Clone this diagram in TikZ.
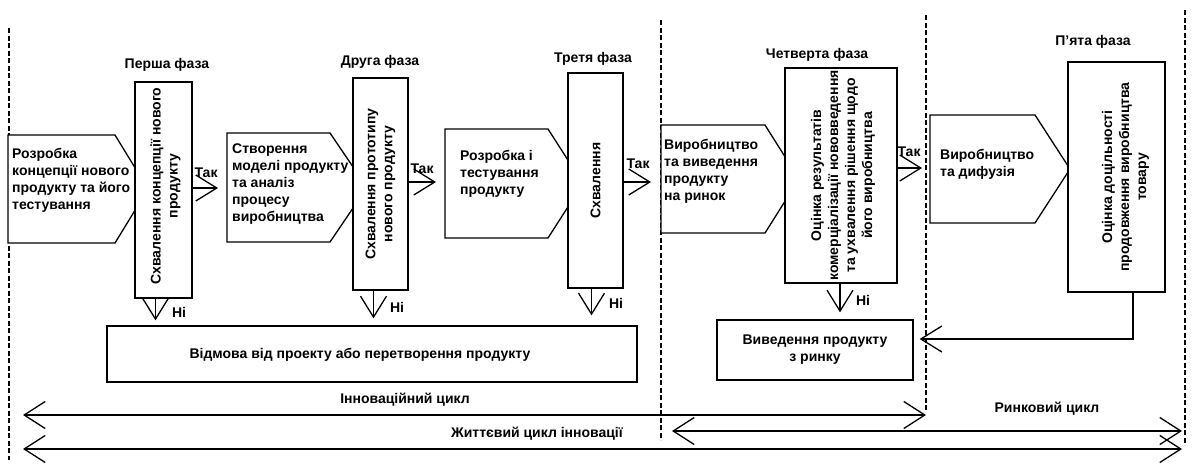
\documentclass[tikz,border=0pt]{standalone}
\usepackage{fontspec}
\setmainfont{Liberation Sans}
\usetikzlibrary{arrows.meta,calc}
\begin{document}
\begin{tikzpicture}[x=1pt,y=-1pt,
  every node/.style={font=\bfseries\fontsize{14}{17}\selectfont, inner sep=0pt},
  ln/.style={line width=1.3pt},
  gate/.style={draw, ln, fill=white},
  pentshape/.style={draw, ln, fill=white, line join=miter},
  arr/.style={ln, -{Straight Barb[length=21pt,width=26pt]}},
  dbl/.style={ln, {Straight Barb[length=21pt,width=27pt]}-{Straight Barb[length=21pt,width=27pt]}},
  dsh/.style={line width=1.2pt, dash pattern=on 5pt off 2.5pt},
  vtext/.style={rotate=90, align=center},
  ptext/.style={anchor=north west, align=left},
]
\fill[white] (0,0) rectangle (1192,466);
\useasboundingbox (0,0) rectangle (1192,466);

% dashed phase separators
\coordinate (d1t) at (9,28);    \coordinate (d1b) at (9,460);
\coordinate (d2t) at (661,20);  \coordinate (d2b) at (661,440);
\coordinate (d3t) at (926,15);  \coordinate (d3b) at (926,410);
\coordinate (d4t) at (1185,10); \coordinate (d4b) at (1185,445);
\draw[dsh] (d1t) -- (d1b);
\draw[dsh] (d2t) -- (d2b);
\draw[dsh] (d3t) -- (d3b);
\draw[dsh] (d4t) -- (d4b);

% pentagons
\draw[pentshape] (8,135) -- (115,135) -- (148,189) -- (115,243) -- (8,243) -- cycle;
\draw[pentshape] (227,133) -- (330,133) -- (367,187.5) -- (330,242) -- (227,242) -- cycle;
\draw[pentshape] (445,129) -- (548,129) -- (583,183.5) -- (548,238) -- (445,238) -- cycle;
\draw[pentshape] (661,125) -- (765,125) -- (799,179) -- (765,233) -- (661,233) -- cycle;
\draw[pentshape] (930,115) -- (1035,115) -- (1070,169) -- (1035,223) -- (930,223) -- cycle;
\coordinate (p2in) at (227,188);
\coordinate (p3in) at (445,182);
\coordinate (p4in) at (661,182);
\coordinate (p5in) at (930,168);

\node[ptext] (p1) at (12,148) {Розробка\\концепції нового\\продукту та його\\тестування};
\node[ptext] (p2) at (232,144) {Створення\\моделі продукту\\та аналіз\\процесу\\виробництва};
\node[ptext] (p3) at (460,150) {Розробка і\\тестування\\продукту};
\node[ptext] (p4) at (664,139) {Виробництво\\та виведення\\продукту\\на ринок};
\node[ptext] (p5) at (940,149) {Виробництво\\та дифузія};

% decision rectangles
\node[gate, minimum width=57pt, minimum height=216pt] (g1) at (163.5,190) {};
\node[gate, minimum width=55pt, minimum height=212pt] (g2) at (380.5,184) {};
\node[gate, minimum width=55pt, minimum height=215pt] (g3) at (595.5,180.5) {};
\node[gate, minimum width=112pt, minimum height=215pt] (g4) at (841,175.5) {};
\node[gate, minimum width=97pt, minimum height=230pt] (g5) at (1116.5,177) {};

\node[vtext] (g1t) at ($(g1.center)+(2,-4)$) {Схвалення концепції нового\\продукту};
\node[vtext] (g2t) at (g2.center) {Схвалення прототипу\\нового продукту};
\node[vtext] (g3t) at (g3.center) {Схвалення};
\node[vtext] (g4t) at ($(g4.center)+(2,0)$) {Оцінка результатів\\комерціалізації нововведення\\та ухвалення рішення щодо\\його виробництва};
\node[vtext] (g5t) at ($(g5.center)+(9,0)$) {Оцінка доцільності\\продовження виробництва\\товару};

% phase titles
\node (ph1) at (167,65) {Перша фаза};
\node (ph2) at (380,62) {Друга фаза};
\node (ph3) at (593,59) {Третя фаза};
\node (ph4) at (817,55) {Четверта фаза};
\node (ph5) at (1093,42) {П’ята фаза};

% "yes" arrows
\draw[arr, shorten >=9pt] (g1.east |- p2in) -- (p2in);
\draw[arr, shorten >=9pt] (g2.east |- p3in) -- (p3in);
\draw[arr, shorten >=10pt] (g3.east |- p4in) -- (p4in);
\draw[arr, shorten >=8pt] (g4.east |- p5in) -- (p5in);
\node (y1) at (206,173) {Так};
\node (y2) at (422,169) {Так};
\node (y3) at (638,164) {Так};
\node (y4) at (909,152) {Так};

% bottom boxes
\node[gate, minimum width=530pt, minimum height=56pt] (b1) at (372,354) {};
\node (b1t) at (360,355) {Відмова від проекту або перетворення продукту};
\node[gate, minimum width=196pt, minimum height=60pt, align=center] (b2) at (815,350) {Виведення продукту\\з ринку};

% "no" arrows
\coordinate (n1) at ($(g1.south)+(-8,0)$);
\coordinate (n2) at ($(g2.south)+(-7,0)$);
\coordinate (n3) at ($(g3.south)+(-4,0)$);
\coordinate (n4) at ($(g4.south)+(-1,0)$);
\draw[arr, shorten >=5pt] (n1) -- (n1 |- b1.north);
\draw[arr, shorten >=7pt] (n2) -- (n2 |- b1.north);
\draw[arr, shorten >=10pt] (n3) -- (n3 |- b1.north);
\draw[arr, shorten >=7pt] (n4) -- (n4 |- b2.north);
\node (no1) at (179,312) {Ні};
\node (no2) at (397,307) {Ні};
\node (no3) at (616,303) {Ні};
\node (no4) at (863,300) {Ні};

% return arrow from fifth phase
\draw[arr] ($(g5.south)+(16.5,0)$) |- ($(b2.east)+(6,-11)$);

% cycles
\coordinate (innL) at (23,415);  \coordinate (innR) at (926,415);
\coordinate (mktL) at (672,431); \coordinate (mktR) at (1182,431);
\coordinate (lifL) at (23,449);  \coordinate (lifR) at (1182,449);
\draw[dbl] (innL) -- (innR);
\draw[dbl] (mktL) -- (mktR);
\draw[dbl] (lifL) -- (lifR);
\node (innlab) at (405,400) {Інноваційний цикл};
\node (mktlab) at (1047,409) {Ринковий цикл};
\node (liflab) at (537,434) {Життєвий цикл інновації};
\end{tikzpicture}
\end{document}
